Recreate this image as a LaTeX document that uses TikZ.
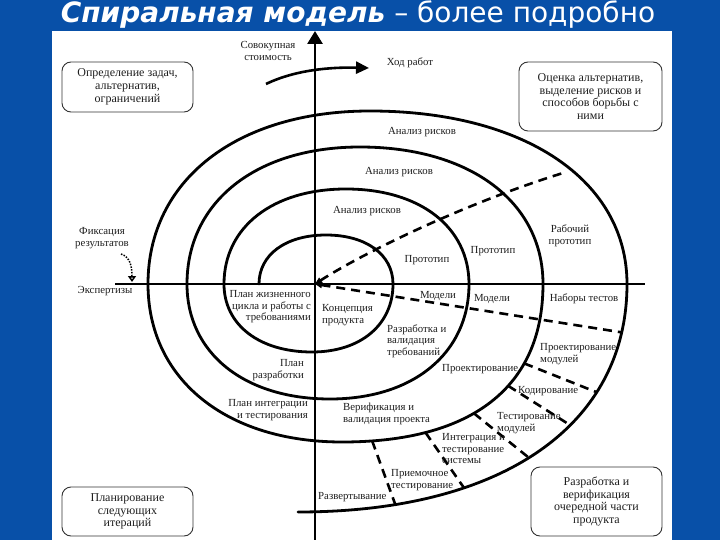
\documentclass[tikz,border=0pt]{standalone}
\usepackage{fontspec}
\setmainfont{Liberation Serif}
\newfontfamily\titlefont{DejaVu Sans}
\usetikzlibrary{arrows.meta}
\definecolor{bgblue}{RGB}{8,80,168}
\definecolor{txt}{RGB}{30,30,30}
\begin{document}
\begin{tikzpicture}[x=1pt,y=-1pt,
  spiral/.style={line width=2.8pt, line cap=round, line join=round},
  axis/.style={line width=2.8pt},
  dsh/.style={line width=2.6pt, dash pattern=on 9pt off 6pt},
  lbl/.style={inner sep=0pt, font=\fontsize{10.8}{11.5}\selectfont, text=txt},
  box/.style={draw=black!80, line width=0.9pt, rounded corners=9pt, inner sep=2pt, align=center, font=\fontsize{12}{12.8}\selectfont, text=txt},
]
\useasboundingbox (0,0) rectangle (720,540);
\fill[bgblue] (0,0) rectangle (720,540);
\fill[white] (52,31) rectangle (672,540);

% title
\node[anchor=base, text=white, inner sep=0pt, font=\titlefont\fontsize{28}{32}\selectfont] (title) at (358,23) {\textbf{\textit{Спиральная модель}} – более подробно};

% axes
\coordinate (O) at (315,284);
\coordinate (hl) at (115,284);
\coordinate (hr) at (645,284);
\coordinate (vb) at (315,540);
\coordinate (vt) at (315,31);
\draw[axis] (hl) -- (hr);
\draw[axis, -{Triangle[length=13pt,width=15pt]}] (vb) -- (vt);

% progress arrow
\coordinate (h1) at (266,84);
\coordinate (h2) at (369,68);
\draw[line width=2.6pt, -{Triangle[length=13pt,width=12pt]}] (h1) .. controls (295,70) and (330,67) .. (h2);

% spiral
\draw[spiral] (259,284)
 .. controls (259,254.6) and (285.8,235) .. (326,235)
 .. controls (366.2,235) and (393,254.6) .. (393,284)
 .. controls (393,324.8) and (360.6,352) .. (312,352)
 .. controls (259.2,352) and (224,324.8) .. (224,284)
 .. controls (224,227) and (272.8,189) .. (346,189)
 .. controls (419.8,189) and (469,227) .. (469,284)
 .. controls (469,353) and (413.4,399) .. (330,399)
 .. controls (244.2,399) and (187,353) .. (187,284)
 .. controls (187,201.8) and (256.2,147) .. (360,147)
 .. controls (469.8,147) and (543,201.8) .. (543,284)
 .. controls (543,386.7) and (472.6,442) .. (342,442)
   coordinate[pos=0.3] (i1) coordinate[pos=0.41] (i2) coordinate[pos=0.58] (i3) coordinate[pos=0.76] (i4) coordinate[pos=0.92] (i5)
 .. controls (225.6,442) and (148,378.8) .. (148,284)
 .. controls (148,180.2) and (236.8,111) .. (370,111)
 .. controls (524.2,111) and (627,180.2) .. (627,284)
 .. controls (627,425) and (503,512) .. (298,512)
   coordinate[pos=0.29] (o1) coordinate[pos=0.4] (o2) coordinate[pos=0.53] (o3) coordinate[pos=0.69] (o4) coordinate[pos=0.83] (o5) coordinate[pos=0.12] (m4);

% dashed lines
\coordinate (dE) at (563,173);
\draw[dsh, {Triangle[length=7pt,width=6pt]}-] (O) .. controls (360,255) and (460,205) .. (dE);
\draw[dsh, {Triangle[length=7pt,width=6pt]}-] (O) -- (m4);
\draw[dsh] (i1) -- (o1);
\draw[dsh] (i2) -- (o2);
\draw[dsh] (i3) -- (o3);
\draw[dsh] (i4) -- (o4);
\draw[dsh] (i5) -- (o5);

% dotted arrow
\coordinate (fa) at (121,254);
\coordinate (fb) at (132,282);
\draw[line width=1.5pt, dash pattern=on 1.5pt off 1.3pt, -{Triangle[open,length=6pt,width=8pt]}] (fa) .. controls (130,257) and (132,266) .. (fb);

% labels
\node[lbl, align=center] (cost) at (268,51) {Совокупная\\стоимость};
\node[lbl] (prog) at (410,63) {Ход работ};
\node[lbl] (ar1) at (367,211) {Анализ рисков};
\node[lbl] (ar2) at (399,172) {Анализ рисков};
\node[lbl] (ar3) at (422,132) {Анализ рисков};
\node[lbl] (pr1) at (427,260) {Прототип};
\node[lbl] (pr2) at (493,251) {Прототип};
\node[lbl, align=center] (pr3) at (570,236) {Рабочий\\прототип};
\node[lbl] (md1) at (438,296) {Модели};
\node[lbl] (md2) at (492,299) {Модели};
\node[lbl] (nt) at (584,299) {Наборы тестов};
\node[lbl, anchor=west, align=left] (rvt) at (387,341) {Разработка и\\валидация\\требований};
\node[lbl, anchor=west, align=left] (kp) at (322,315) {Концепция\\продукта};
\node[lbl, anchor=east, align=right] (pzc) at (311,307) {План жизненного\\цикла и работы с\\требованиями};
\node[lbl, anchor=east, align=right] (pr) at (304,370) {План\\разработки};
\node[lbl, anchor=east, align=right] (pit) at (308,410) {План интеграции\\и тестирования};
\node[lbl, anchor=west, align=left] (vvp) at (343,414) {Верификация и\\валидация проекта};
\node[lbl, anchor=west] (razv) at (318,497) {Развертывание};
\node[lbl, anchor=west, align=left] (pt) at (391,480) {Приемочное\\тестирование};
\node[lbl, anchor=west, align=left] (its) at (442,449) {Интеграция и\\тестирование\\системы};
\node[lbl, anchor=west, align=left] (tm) at (497,423) {Тестирование\\модулей};
\node[lbl, anchor=west] (kod) at (518,391) {Кодирование};
\node[lbl, anchor=west] (proj) at (442,369) {Проектирование};
\node[lbl, anchor=west, align=left] (pm) at (540,354) {Проектирование\\модулей};
\node[lbl, align=center] (fix) at (102,238) {Фиксация\\результатов};
\node[lbl] (exp) at (105,291) {Экспертизы};

% boxes
\node[box, minimum width=131pt, minimum height=50pt] (btl) at (127.5,87) {Определение задач,\\альтернатив,\\ограничений};
\node[box, minimum width=143pt, minimum height=69pt] (btr) at (590.5,96.5) {Оценка альтернатив,\\выделение рисков и\\способов борьбы с\\ними};
\node[box, minimum width=131pt, minimum height=49pt] (bbl) at (127.5,511.5) {Планирование\\следующих\\итераций};
\node[box, minimum width=131pt, minimum height=69pt] (bbr) at (596.5,501.5) {Разработка и\\верификация\\очередной части\\продукта};
\end{tikzpicture}
\end{document}
